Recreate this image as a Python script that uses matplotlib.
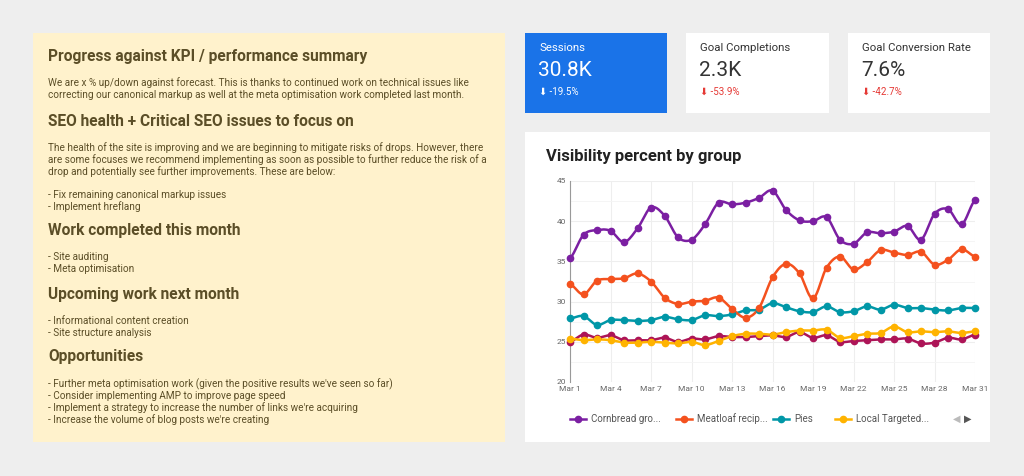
import numpy as np
import matplotlib
matplotlib.use("Agg")
import matplotlib.pyplot as plt
from matplotlib.patches import Rectangle

plt.rcParams['font.family'] = ['Roboto', 'DejaVu Sans']

days = list(range(1, 32))
tick_days = [1, 4, 7, 10, 13, 16, 19, 22, 25, 28, 31]
tick_labels = [f"Mar {d}" for d in tick_days]

cornbread = [35.4, 38.3, 38.9, 38.8, 37.4, 39.1, 41.7, 40.7, 38.0, 37.7, 39.6, 42.3, 42.1, 42.3, 42.9, 43.8,
             41.4, 40.1, 40.0, 40.5, 37.7, 37.2, 38.6, 38.5, 38.7, 39.4, 37.7, 40.9, 41.5, 39.6, 42.6]
meatloaf = [32.2, 30.9, 32.6, 32.8, 32.9, 33.5, 32.5, 30.5, 29.7, 30.0, 30.1, 30.5, 29.1, 28.0, 29.2, 33.0,
            34.7, 33.5, 30.4, 34.2, 35.6, 34.0, 34.9, 36.4, 36.1, 35.8, 36.2, 34.6, 35.2, 36.5, 35.6]
pies = [27.9, 28.2, 27.1, 27.7, 27.7, 27.6, 27.7, 28.1, 27.8, 27.7, 28.3, 28.2, 28.4, 28.9, 29.0, 29.8,
        29.3, 28.8, 28.7, 29.4, 28.7, 28.8, 29.4, 29.0, 29.6, 29.2, 29.2, 29.0, 28.9, 29.2, 29.2]
local = [25.4, 25.2, 25.3, 25.2, 24.9, 24.9, 25.0, 24.9, 24.8, 25.0, 24.6, 25.1, 25.7, 26.0, 26.0, 25.9,
         26.2, 26.4, 26.4, 26.5, 25.5, 25.7, 26.0, 26.1, 26.9, 26.2, 26.3, 26.2, 26.3, 26.1, 26.3]
fifth = [25.0, 25.9, 25.5, 25.8, 25.2, 25.2, 25.2, 25.5, 25.0, 25.4, 25.3, 25.7, 25.6, 25.6, 25.7, 25.8,
         25.6, 26.2, 25.5, 25.8, 25.0, 25.1, 25.2, 25.3, 25.3, 25.4, 24.8, 24.9, 25.5, 25.3, 25.9]

series_names = ["Cornbread gro...", "Meatloaf recip...", "Pies", "Local Targeted...", None]
series_vals = [cornbread, meatloaf, pies, local, fifth]
series_colors = ["#7b1fa2", "#f4511e", "#0097a7", "#ffb300", "#ad1457"]

kpi_titles = ["Sessions", "Goal Completions", "Goal Conversion Rate"]
kpi_values = ["30.8K", "2.3K", "7.6%"]
kpi_changes = ["-19.5%", "-53.9%", "-42.7%"]

W, H = 1024, 476
fig = plt.figure(figsize=(W / 100, H / 100), dpi=100, facecolor="#eeeeee")

def box(x0, y0, x1, y1, color):
    fig.patches.append(Rectangle((x0 / W, 1 - y1 / H), (x1 - x0) / W, (y1 - y0) / H,
                                 transform=fig.transFigure, facecolor=color, edgecolor="none", zorder=-5))

def txt(x, y, s, **kw):
    fig.text(x / W, 1 - y / H, s, **kw)

box(33, 33, 505, 442, "#fff2cc")
tc = "#5b4e27"
blocks = [
    ("Progress against KPI / performance summary", 56,
     ["We are x % up/down against forecast. This is thanks to continued work on technical issues like",
      "correcting our canonical markup as well at the meta optimisation work completed last month."]),
    ("SEO health + Critical SEO issues to focus on", 121,
     ["The health of the site is improving and we are beginning to mitigate risks of drops. However, there",
      "are some focuses we recommend implementing as soon as possible to further reduce the risk of a",
      "drop and potentially see further improvements. These are below:",
      "",
      "- Fix remaining canonical markup issues",
      "- Implement hreflang"]),
    ("Work completed this month", 230,
     ["- Site auditing", "- Meta optimisation"]),
    ("Upcoming work next month", 294,
     ["- Informational content creation", "- Site structure analysis"]),
    ("Opportunities", 357,
     ["- Further meta optimisation work (given the positive results we've seen so far)",
      "- Consider implementing AMP to improve page speed",
      "- Implement a strategy to increase the number of links we're acquiring",
      "- Increase the volume of blog posts we're creating"]),
]
for head, y, lines in blocks:
    txt(48, y, head, fontsize=11.2, fontweight="bold", color=tc, va="center")
    for i, ln in enumerate(lines):
        txt(48, y + 27 + i * 11.8, ln, fontsize=7.2, color=tc, va="center")

xs = [(525, 667), (686, 829), (848, 990)]
for i, (x0, x1) in enumerate(xs):
    blue = i == 0
    box(x0, 33, x1, 113, "#1a73e8" if blue else "white")
    c1 = "white" if blue else "#333333"
    txt(x0 + 14, 48, kpi_titles[i], fontsize=8.2, color=c1, va="center")
    txt(x0 + 13, 71, kpi_values[i], fontsize=15, color=c1, va="center")
    c2 = "white" if blue else "#e53935"
    txt(x0 + 14, 92, "\u2b07 " + kpi_changes[i], fontsize=7, color=c2, va="center")

box(525, 132, 990, 442, "white")
txt(546, 157, "Visibility percent by group", fontsize=12, fontweight="bold", color="#222222", va="center")

ax = fig.add_axes([570 / W, 1 - 382 / H, (975 - 570) / W, (382 - 181) / H])
ax.set_facecolor("white")
ax.set_zorder(1)

def smooth(x, y, n=10):
    x = np.asarray(x, float); y = np.asarray(y, float)
    xp = np.concatenate([[x[0]], x, [x[-1]]]); yp = np.concatenate([[y[0]], y, [y[-1]]])
    X, Y = [], []
    for i in range(1, len(xp) - 2):
        t = np.linspace(0, 1, n, endpoint=False)
        p0, p1, p2, p3 = yp[i - 1], yp[i], yp[i + 1], yp[i + 2]
        yy = 0.5 * (2 * p1 + (-p0 + p2) * t + (2 * p0 - 5 * p1 + 4 * p2 - p3) * t**2 + (-p0 + 3 * p1 - 3 * p2 + p3) * t**3)
        X.extend(xp[i] + t * (xp[i + 1] - xp[i])); Y.extend(yy)
    X.append(x[-1]); Y.append(y[-1])
    return X, Y

for vals, col in zip(series_vals[::-1], series_colors[::-1]):
    sx, sy = smooth(days, vals)
    ax.plot(sx, sy, color=col, lw=1.8, zorder=3, clip_on=False)
    ax.plot(days, vals, "o", color=col, ms=4.5, zorder=4, clip_on=False)

ax.set_xlim(1, 31)
ax.set_ylim(20, 45)
ax.set_yticks([20, 25, 30, 35, 40, 45])
ax.set_xticks(tick_days)
ax.set_xticklabels(tick_labels)
ax.tick_params(labelsize=6, colors="#666666", length=0, pad=3)
ax.set_yticks(np.arange(20, 46, 2.5), minor=True)
ax.tick_params(which="minor", length=0)
ax.grid(True, color="#eeeeee", lw=0.8)
ax.grid(True, which="minor", axis="y", color="#f4f4f4", lw=0.6)
ax.set_axisbelow(True)
for s in ["top", "right", "bottom"]:
    ax.spines[s].set_visible(False)
ax.spines["left"].set_color("#999999")

lx = [570, 676, 773, 835]
for x, name, col in zip(lx, series_names[:4], series_colors[:4]):
    y = 1 - 419 / H
    fig.add_artist(plt.Line2D([x / W, (x + 16) / W], [y, y], color=col, lw=1.8, transform=fig.transFigure))
    fig.add_artist(plt.Line2D([(x + 8) / W], [y], marker="o", color=col, ms=4.5, transform=fig.transFigure))
    txt(x + 21, 419, name, fontsize=7, color="#555555", va="center")
txt(953, 419, "\u25c0", fontsize=7, color="#bbbbbb", va="center", family=["DejaVu Sans"])
txt(964, 419, "\u25b6", fontsize=7, color="#555555", va="center", family=["DejaVu Sans"])

fig.savefig("out.png", dpi=100, facecolor=fig.get_facecolor())
